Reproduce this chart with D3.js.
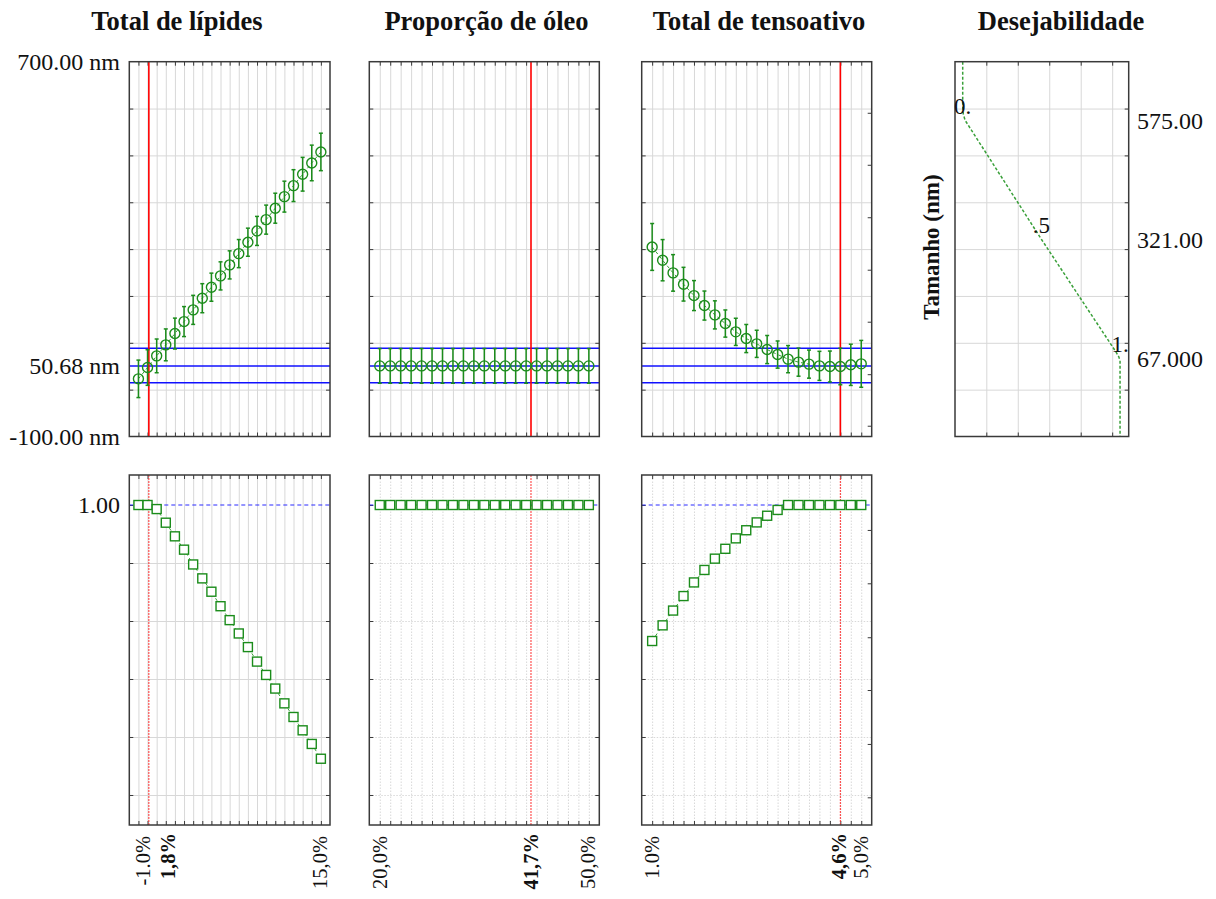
<!DOCTYPE html>
<html>
<head>
<meta charset="utf-8">
<script src="https://cdn.jsdelivr.net/npm/d3@7"></script>
<style>
  body { margin: 0; background: #fff; }
  text { font-family: "Liberation Serif", "Times New Roman", serif; fill: #111; }
</style>
</head>
<body>
<script>
// ---------------- DATA ----------------
const factorTitles = ["Total de lípides", "Proporção de óleo", "Total de tensoativo"];
const lipidLevels = [1.0,1.7,2.4,3.1,3.8,4.5,5.2,5.9,6.6,7.3,8.0,8.7,9.4,10.1,10.8,11.5,12.2,12.9,13.6,14.3,15.0];
const oilLevels = [20,21.5,23,24.5,26,27.5,29,30.5,32,33.5,35,36.5,38,39.5,41,42.5,44,45.5,47,48.5,50];
const surfLevels = [1.0,1.2,1.4,1.6,1.8,2.0,2.2,2.4,2.6,2.8,3.0,3.2,3.4,3.6,3.8,4.0,4.2,4.4,4.6,4.8,5.0];

const lipidSize = [23.1,47.2,72.1,95.6,119.7,145.3,170.3,195.2,218.7,242.8,266.3,290.4,314.7,338.8,362.9,387.3,412.0,435.5,459.8,483.9,507.4];
const lipidErr  = [40,38,36,34,33,32,31,31,30,30,30,30,30,31,31,32,33,34,36,38,40];
const oilSize   = [50.68,50.68,50.68,50.68,50.68,50.68,50.68,50.68,50.68,50.68,50.68,50.68,50.68,50.68,50.68,50.68,50.68,50.68,50.68,50.68,50.68];
const oilErr    = [37,37,37,37,37,37,37,37,37,37,37,37,37,37,37,37,37,37,37,37,37];
const surfSize  = [304.6,276.3,249.2,225.1,200.8,179.5,159.6,141.1,123.4,109.1,97.8,85.6,74.9,65.1,58.7,54.5,50.8,49.4,49.4,53.0,55.1];
const surfErr   = [50,44,39,36,32,31,30,29,29,30,29,30,29,29,30,30,31,33,39,44,50];

const lipidDesir = [1.0,1.0,0.986,0.939,0.892,0.846,0.795,0.747,0.701,0.651,0.603,0.557,0.510,0.460,0.414,0.367,0.316,0.269,0.223,0.176,0.125];
const oilDesir   = [1,1,1,1,1,1,1,1,1,1,1,1,1,1,1,1,1,1,1,1,1];
const surfDesir  = [0.531,0.585,0.636,0.686,0.733,0.776,0.815,0.849,0.885,0.913,0.940,0.963,0.983,1,1,1,1,1,1,1,1];

const currentValues = [1.8, 41.7, 4.6];
const xTickValues = [[1.0, 1.8, 15.0], [20, 41.7, 50], [1.0, 4.6, 5.0]];
const xTickLabels = [["-1.0%", "1,8%", "15,0%"], ["20,0%", "41,7%", "50,0%"], ["1.0%", "4,6%", "5,0%"]];

const sizeTickValues = [700, 50.68, -100];
const sizeTickLabels = ["700.00 nm", "50.68 nm", "-100.00 nm"];
const sizeGrid = [0, 100, 200, 300, 400, 500, 600];
const sizeCI = [14.6, 50.68, 88.6];
const surfRightTicksTop = [591, 480, 368, 256, 145, 33, -77];

const desirTickValues = [1.0];
const desirTickLabels = ["1.00"];
const desirGrid = [0, 0.2, 0.4, 0.6, 0.8];
const surfRightTicksBot = [0.914, 0.730, 0.544, 0.362, 0.176, -0.008];

// desirability function of response
const dfSizes  = [700, 604, 588, 575, 321, 80, 70, 62, -100];
const dfValues = [0, 0, 0.004, 0.015, 0.5, 0.975, 0.992, 1, 1];
const dfLabelSizes = [575, 321, 67];
const dfLabelValues = [0, 0.5, 1];
const dfLabels = ["0.", ".5", "1."];
const dfRightLabels = ["575.00", "321.00", "67.000"];
const dfGrid = [0.15, 0.35, 0.55, 0.75, 0.95];
const responseLabel = "Tamanho (nm)";
const desirTitle = "Desejabilidade";

// ---------------- LAYOUT ----------------
const W = 1216, H = 899;
const panelX = [[129.3, 330], [369.3, 599.3], [641.7, 871.7]];
const topY = [61.7, 436.5], botY = [475, 825];
const dfX = [955, 1128.7];
const titleX = [177, 486.5, 759, 1061];

const GREEN = "#1b8c1b", GRID = "#d8d8d8", BORDER = "#3a3a3a";

const svg = d3.select("body").append("svg").attr("width", W).attr("height", H);

const ySize = d3.scaleLinear([-100, 700], [topY[1], topY[0]]);
const yDes = d3.scaleLinear([-0.1035, 1.1035], [botY[1], botY[0]]);

const levels = [lipidLevels, oilLevels, surfLevels];
const sizes = [lipidSize, oilSize, surfSize];
const errs = [lipidErr, oilErr, surfErr];
const desirs = [lipidDesir, oilDesir, surfDesir];
const labelNudge = [[4.5, 19, -1], [0, 0, -1], [0, -2, 0]];

function tickAxis(g, axis) {
  g.call(axis);
  g.select(".domain").remove();
  g.selectAll(".tick line").attr("stroke", BORDER).attr("stroke-width", 1);
  g.selectAll(".tick text").remove();
}
function gridAxis(g, axis, dash) {
  g.call(axis);
  g.select(".domain").remove();
  g.selectAll(".tick line").attr("stroke", GRID).attr("stroke-width", 1)
    .attr("stroke-dasharray", dash || null);
  g.selectAll(".tick text").remove();
}

factorTitles.forEach((title, i) => {
  const lv = levels[i];
  const step = lv[1] - lv[0];
  const x = d3.scaleLinear([lv[0] - step, lv[lv.length - 1] + step], panelX[i]);
  const [x0, x1] = panelX[i];

  svg.append("text").attr("x", titleX[i]).attr("y", 30).attr("text-anchor", "middle")
    .attr("font-size", 26.5).attr("font-weight", "bold").text(title);

  // ---------- TOP (size) ----------
  const gt = svg.append("g");
  gt.append("rect").attr("x", x0).attr("y", topY[0]).attr("width", x1 - x0).attr("height", topY[1] - topY[0]).attr("fill", "#fff");
  gridAxis(gt.append("g").attr("transform", `translate(0,${topY[1]})`),
    d3.axisBottom(x).tickValues(lv).tickSize(-(topY[1] - topY[0])));
  gridAxis(gt.append("g").attr("transform", `translate(${x0},0)`),
    d3.axisLeft(ySize).tickValues(sizeGrid).tickSize(-(x1 - x0)));
  tickAxis(gt.append("g").attr("transform", `translate(0,${topY[0]})`), d3.axisTop(x).tickValues(lv).tickSize(-4));
  tickAxis(gt.append("g").attr("transform", `translate(0,${topY[1]})`), d3.axisBottom(x).tickValues(lv).tickSize(-4));
  tickAxis(gt.append("g").attr("transform", `translate(${x0},0)`), d3.axisLeft(ySize).tickValues(sizeGrid).tickSize(-4));
  tickAxis(gt.append("g").attr("transform", `translate(${x1},0)`),
    d3.axisRight(ySize).tickValues(i === 2 ? surfRightTicksTop : sizeGrid).tickSize(-4));

  gt.selectAll("line.ci").data(sizeCI).join("line")
    .attr("x1", x0).attr("x2", x1).attr("y1", d => ySize(d)).attr("y2", d => ySize(d))
    .attr("stroke", "#1010ff").attr("stroke-width", 1.5);
  gt.append("line").attr("x1", x(currentValues[i])).attr("x2", x(currentValues[i]))
    .attr("y1", topY[0]).attr("y2", topY[1]).attr("stroke", "#ff0000").attr("stroke-width", 1.6);

  const pts = lv.map((v, k) => ({ x: v, y: sizes[i][k], e: errs[i][k] }));
  gt.append("path").datum(pts)
    .attr("d", d3.line().x(d => x(d.x)).y(d => ySize(d.y)))
    .attr("fill", "none").attr("stroke", "#3aa03a").attr("stroke-width", 1).attr("stroke-dasharray", "3,3");
  const eb = gt.append("g").attr("stroke", GREEN).attr("stroke-width", 1.5);
  eb.selectAll("line.v").data(pts).join("line")
    .attr("x1", d => x(d.x)).attr("x2", d => x(d.x))
    .attr("y1", d => ySize(d.y + d.e)).attr("y2", d => ySize(d.y - d.e));
  eb.selectAll("line.t").data(pts).join("line")
    .attr("x1", d => x(d.x) - 2).attr("x2", d => x(d.x) + 2)
    .attr("y1", d => ySize(d.y + d.e)).attr("y2", d => ySize(d.y + d.e));
  eb.selectAll("line.b").data(pts).join("line")
    .attr("x1", d => x(d.x) - 2).attr("x2", d => x(d.x) + 2)
    .attr("y1", d => ySize(d.y - d.e)).attr("y2", d => ySize(d.y - d.e));
  gt.selectAll("circle").data(pts).join("circle")
    .attr("cx", d => x(d.x)).attr("cy", d => ySize(d.y)).attr("r", 5)
    .attr("fill", "none").attr("stroke", GREEN).attr("stroke-width", 1.4);
  gt.append("rect").attr("x", x0).attr("y", topY[0]).attr("width", x1 - x0).attr("height", topY[1] - topY[0])
    .attr("fill", "none").attr("stroke", BORDER).attr("stroke-width", 1.5);

  // ---------- BOTTOM (desirability) ----------
  const gb = svg.append("g");
  const dash = i === 0 ? null : "1.5,1.5";
  gridAxis(gb.append("g").attr("transform", `translate(0,${botY[1]})`),
    d3.axisBottom(x).tickValues(lv).tickSize(-(botY[1] - botY[0])), dash);
  gridAxis(gb.append("g").attr("transform", `translate(${x0},0)`),
    d3.axisLeft(yDes).tickValues(desirGrid).tickSize(-(x1 - x0)), dash);
  tickAxis(gb.append("g").attr("transform", `translate(0,${botY[0]})`), d3.axisTop(x).tickValues(lv).tickSize(-4));
  tickAxis(gb.append("g").attr("transform", `translate(0,${botY[1]})`), d3.axisBottom(x).tickValues(lv).tickSize(-4));
  tickAxis(gb.append("g").attr("transform", `translate(${x0},0)`), d3.axisLeft(yDes).tickValues(desirGrid.concat(desirTickValues)).tickSize(-4));
  tickAxis(gb.append("g").attr("transform", `translate(${x1},0)`),
    d3.axisRight(yDes).tickValues(i === 2 ? surfRightTicksBot : desirGrid).tickSize(-4));

  gb.append("line").attr("x1", x0).attr("x2", x1).attr("y1", yDes(1)).attr("y2", yDes(1))
    .attr("stroke", "#2a2aff").attr("stroke-width", 1).attr("stroke-dasharray", "4,3");
  gb.append("line").attr("x1", x(currentValues[i])).attr("x2", x(currentValues[i]))
    .attr("y1", botY[0]).attr("y2", botY[1]).attr("stroke", "#ff3030").attr("stroke-width", 1)
    .attr("stroke-dasharray", "2,1");

  const dpts = lv.map((v, k) => ({ x: v, y: desirs[i][k] }));
  gb.append("path").datum(dpts)
    .attr("d", d3.line().x(d => x(d.x)).y(d => yDes(d.y)))
    .attr("fill", "none").attr("stroke", "#3aa03a").attr("stroke-width", 1).attr("stroke-dasharray", "3,3");
  gb.selectAll("rect.m").data(dpts).join("rect").attr("class", "m")
    .attr("x", d => x(d.x) - 4.5).attr("y", d => yDes(d.y) - 4.5).attr("width", 9).attr("height", 9)
    .attr("fill", "#fff").attr("stroke", GREEN).attr("stroke-width", 1.4);
  gb.append("rect").attr("x", x0).attr("y", botY[0]).attr("width", x1 - x0).attr("height", botY[1] - botY[0])
    .attr("fill", "none").attr("stroke", BORDER).attr("stroke-width", 1.5);

  xTickValues[i].forEach((v, k) => {
    const cx = x(v) + labelNudge[i][k];
    svg.append("text")
      .attr("transform", `translate(${cx},${k === 1 ? 833 : 836}) rotate(-90)`)
      .attr("text-anchor", "end").attr("dy", "0.35em")
      .attr("font-size", 20.5).attr("font-weight", k === 1 ? "bold" : "normal")
      .text(xTickLabels[i][k]);
  });
});

sizeTickValues.forEach((v, k) => {
  svg.append("text").attr("x", 120).attr("y", ySize(v)).attr("dy", "0.35em")
    .attr("text-anchor", "end").attr("font-size", 24).text(sizeTickLabels[k]);
});
desirTickValues.forEach((v, k) => {
  svg.append("text").attr("x", 120).attr("y", yDes(v)).attr("dy", "0.35em")
    .attr("text-anchor", "end").attr("font-size", 24).text(desirTickLabels[k]);
});

// ---------- Desirability function panel ----------
const xd = d3.scaleLinear([-0.049, 1.055], dfX);
const gd = svg.append("g");
svg.append("text").attr("x", titleX[3]).attr("y", 30).attr("text-anchor", "middle")
  .attr("font-size", 26.5).attr("font-weight", "bold").text(desirTitle);
gridAxis(gd.append("g").attr("transform", `translate(0,${topY[1]})`),
  d3.axisBottom(xd).tickValues(dfGrid).tickSize(-(topY[1] - topY[0])));
gridAxis(gd.append("g").attr("transform", `translate(${dfX[0]},0)`),
  d3.axisLeft(ySize).tickValues(sizeGrid).tickSize(-(dfX[1] - dfX[0])));
tickAxis(gd.append("g").attr("transform", `translate(0,${topY[0]})`), d3.axisTop(xd).tickValues(dfGrid).tickSize(-4));
tickAxis(gd.append("g").attr("transform", `translate(0,${topY[1]})`), d3.axisBottom(xd).tickValues(dfGrid).tickSize(-4));
tickAxis(gd.append("g").attr("transform", `translate(${dfX[1]},0)`), d3.axisRight(ySize).tickValues(sizeGrid).tickSize(-4));

const dfPts = dfSizes.map((s, k) => ({ s, d: dfValues[k] }));
gd.append("path").datum(dfPts)
  .attr("d", d3.line().x(p => xd(p.d)).y(p => ySize(p.s)))
  .attr("fill", "none").attr("stroke", "#3aa03a").attr("stroke-width", 1.5).attr("stroke-dasharray", "3,2");
gd.append("rect").attr("x", dfX[0]).attr("y", topY[0]).attr("width", dfX[1] - dfX[0]).attr("height", topY[1] - topY[0])
  .attr("fill", "none").attr("stroke", BORDER).attr("stroke-width", 1.5);

dfLabels.forEach((t, k) => {
  svg.append("text").attr("x", xd(dfLabelValues[k])).attr("y", ySize(dfLabelSizes[k]) - 6)
    .attr("text-anchor", "middle").attr("font-size", 23).text(t);
  svg.append("text").attr("x", 1137).attr("y", ySize(dfLabelSizes[k])).attr("dy", "0.35em")
    .attr("font-size", 24).text(dfRightLabels[k]);
});
svg.append("text").attr("transform", `translate(931,${(topY[0] + topY[1]) / 2 - 2}) rotate(-90)`)
  .attr("text-anchor", "middle").attr("dy", "0.35em").attr("font-size", 23).attr("font-weight", "bold")
  .text(responseLabel);
</script>
</body>
</html>
